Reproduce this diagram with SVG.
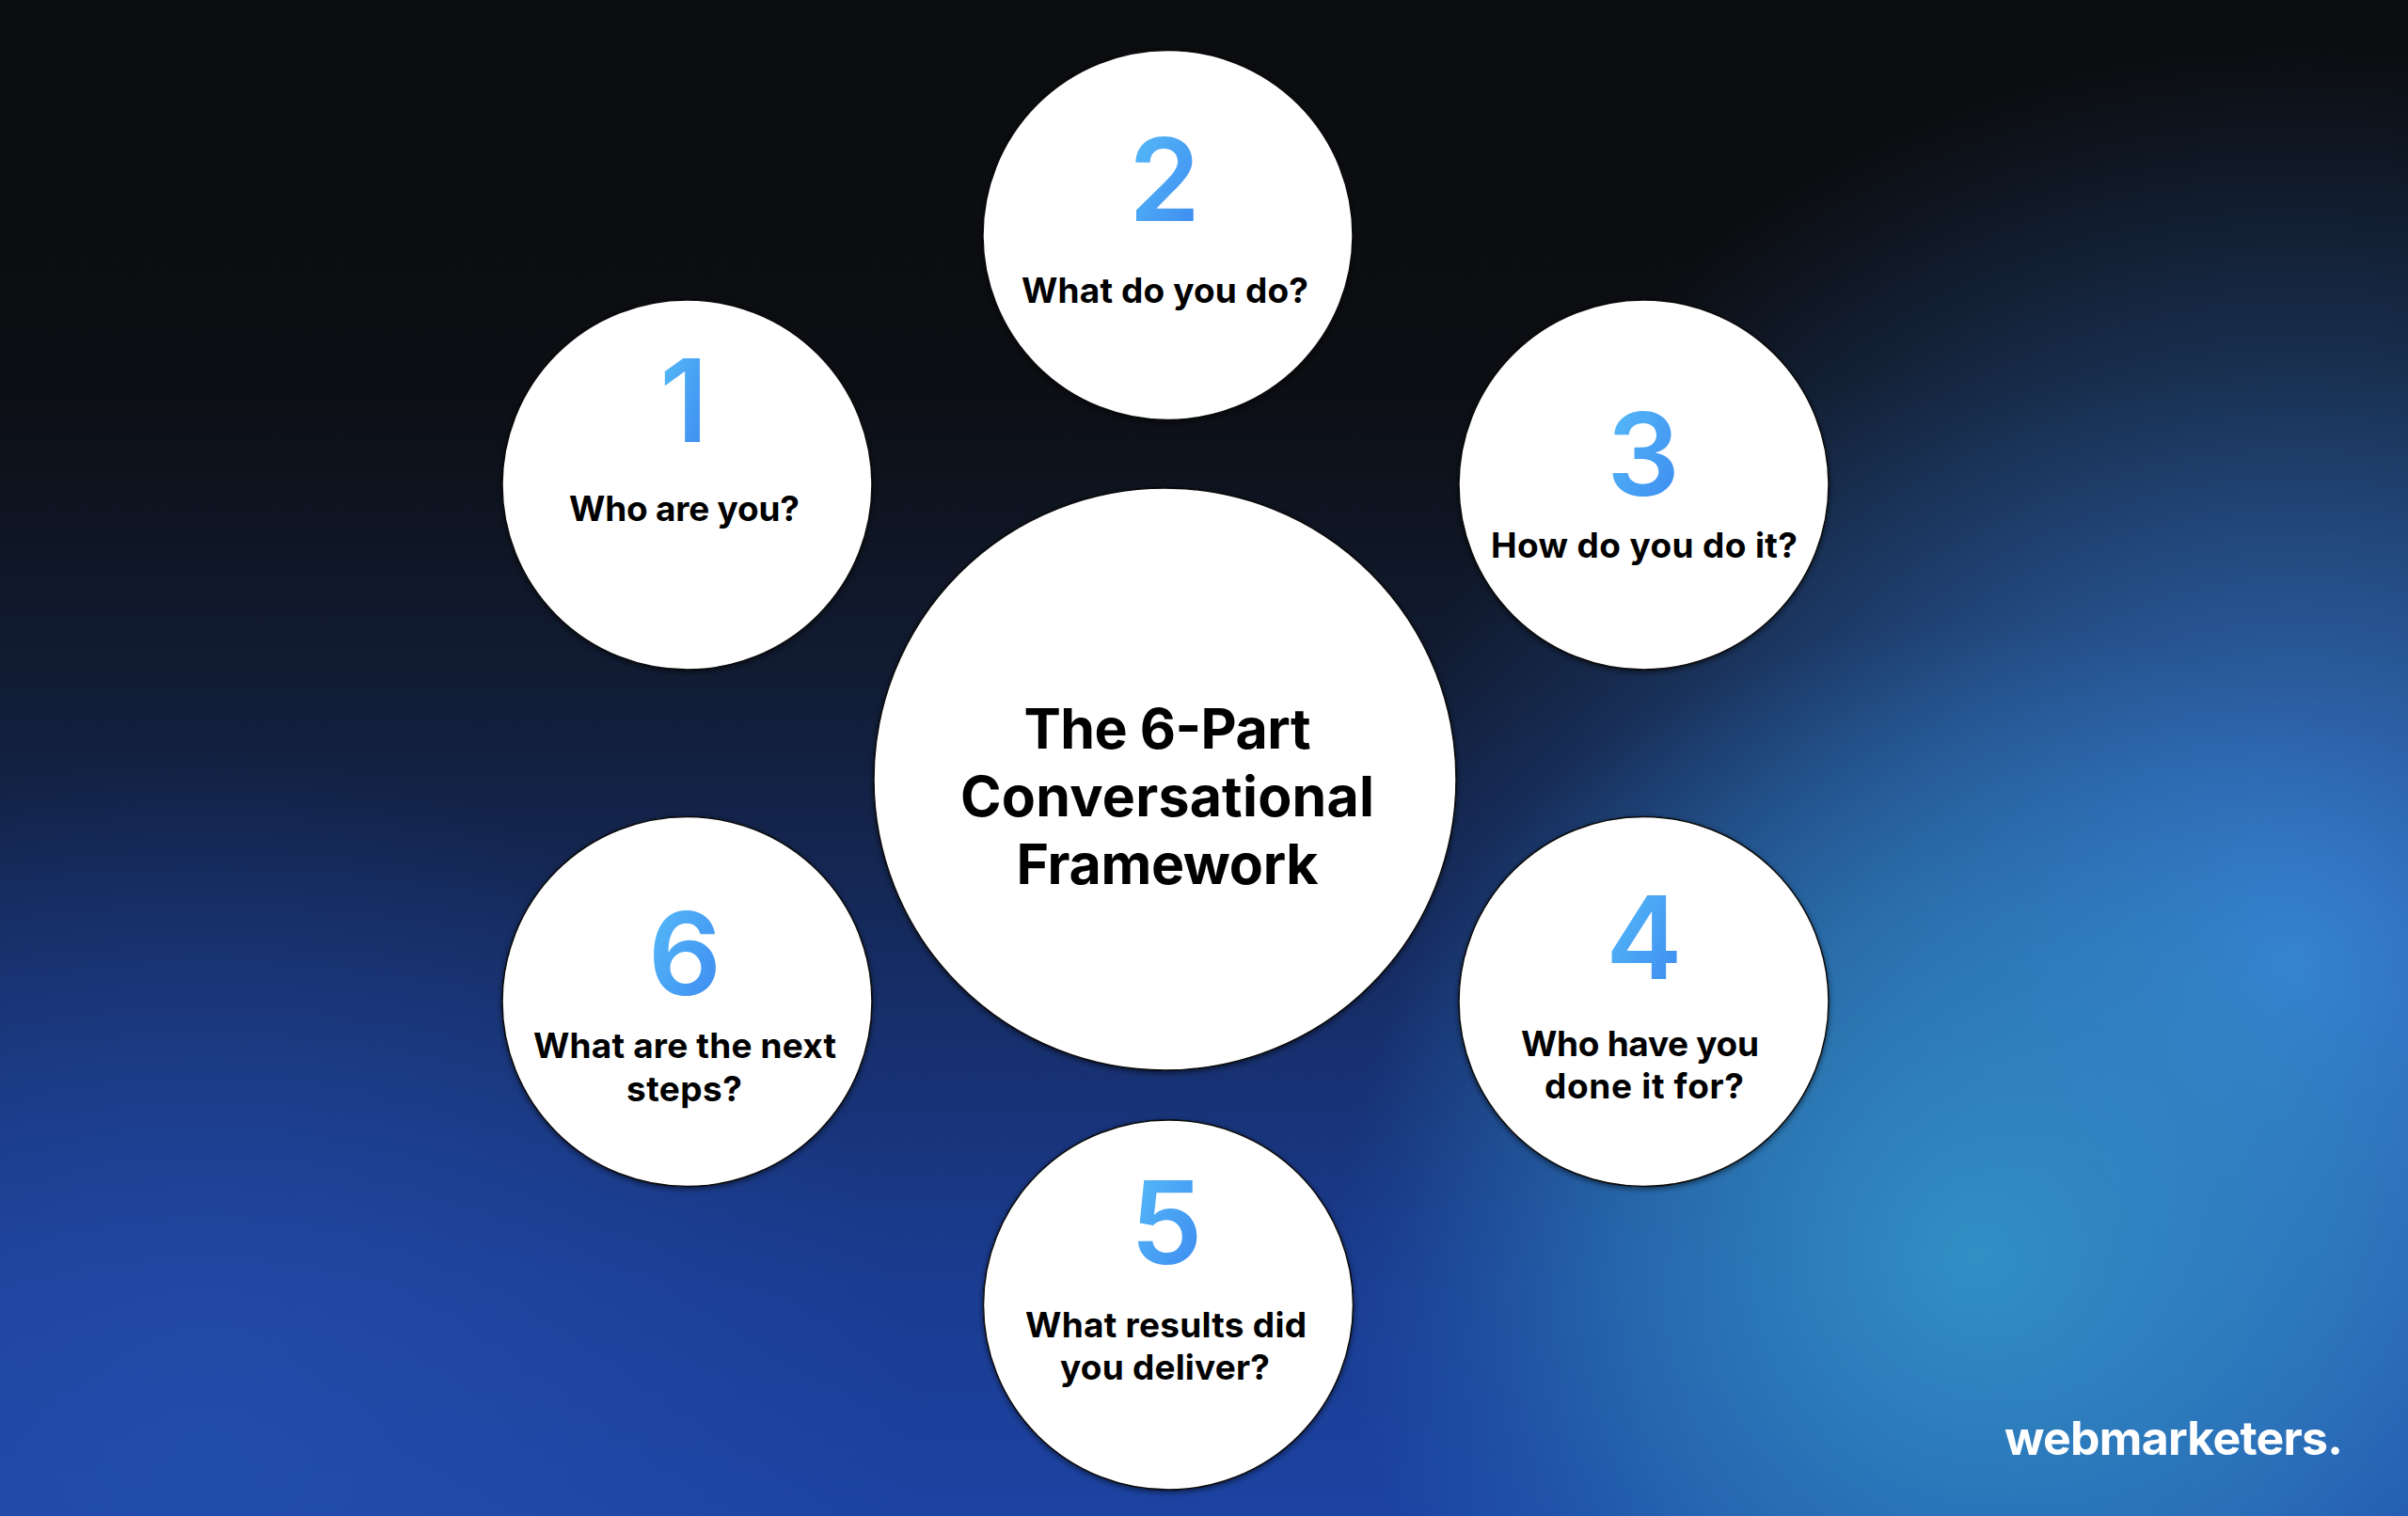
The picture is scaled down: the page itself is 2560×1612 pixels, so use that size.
<svg xmlns="http://www.w3.org/2000/svg" width="2560" height="1612" viewBox="0 0 2560 1612">
  <defs>
    <linearGradient id="bgBase" x1="0" y1="0" x2="0" y2="1">
      <stop offset="0" stop-color="#0b0c0e"/>
      <stop offset="0.25" stop-color="#0c0e13"/>
      <stop offset="0.45" stop-color="#111c34"/>
      <stop offset="0.65" stop-color="#162d66"/>
      <stop offset="0.85" stop-color="#1a3c92"/>
      <stop offset="1" stop-color="#1c43a2"/>
    </linearGradient>
    <radialGradient id="glowBlue" cx="2440" cy="1020" r="980" gradientUnits="userSpaceOnUse">
      <stop offset="0" stop-color="#3b84dc" stop-opacity="0.95"/>
      <stop offset="0.45" stop-color="#3374c8" stop-opacity="0.55"/>
      <stop offset="1" stop-color="#2a5fb0" stop-opacity="0"/>
    </radialGradient>
    <radialGradient id="glowTeal" cx="2100" cy="1340" r="680" gradientUnits="userSpaceOnUse">
      <stop offset="0" stop-color="#3499c9" stop-opacity="0.85"/>
      <stop offset="0.55" stop-color="#3090c4" stop-opacity="0.45"/>
      <stop offset="1" stop-color="#2a80c0" stop-opacity="0"/>
    </radialGradient>
    <radialGradient id="glowLeft" cx="220" cy="1560" r="760" gradientUnits="userSpaceOnUse">
      <stop offset="0" stop-color="#2652b2" stop-opacity="0.7"/>
      <stop offset="1" stop-color="#2652b2" stop-opacity="0"/>
    </radialGradient>
    <linearGradient id="digitGrad" x1="0" y1="0" x2="1" y2="1">
      <stop offset="0" stop-color="#58c0f9"/>
      <stop offset="1" stop-color="#3b86ef"/>
    </linearGradient>
    <filter id="shadow" x="-10%" y="-10%" width="120%" height="120%">
      <feDropShadow dx="0" dy="2" stdDeviation="3" flood-color="#000" flood-opacity="0.55"/>
    </filter>
  </defs>
  <style>
    .disc { fill: #ffffff; stroke: #0a0a0a; stroke-width: 1.5; filter: url(#shadow); }
    .num { font-family: Inter, "Noto Sans", sans-serif; font-weight: 600; font-size: 122px; fill: url(#digitGrad); text-anchor: middle; }
    .lbl { font-family: Inter, "Noto Sans", sans-serif; font-weight: 700; font-size: 37px; fill: #000; text-anchor: middle; }
    .title { font-family: Inter, "Noto Sans", sans-serif; font-weight: 700; font-size: 59px; fill: #000; text-anchor: middle; }
    .logo { font-family: Inter, "Noto Sans", sans-serif; font-weight: 700; font-size: 50px; fill: #ffffff; }
  </style>

  <rect x="0" y="0" width="2560" height="1612" fill="url(#bgBase)"/>
  <rect x="0" y="0" width="2560" height="1612" fill="url(#glowLeft)"/>
  <rect x="0" y="0" width="2560" height="1612" fill="url(#glowBlue)"/>
  <rect x="0" y="0" width="2560" height="1612" fill="url(#glowTeal)"/>

  <g id="connectors"></g>

  <g id="node-center">
    <circle class="disc" cx="1238.5" cy="828.5" r="309.5"/>
    <text class="title" x="1241" y="796" textLength="305">The 6-Part</text>
    <text class="title" x="1241" y="868" textLength="440">Conversational</text>
    <text class="title" x="1241" y="940" textLength="321">Framework</text>
  </g>

  <g id="node-1">
    <circle class="disc" cx="730.5" cy="515.5" r="196.5"/>
    <text class="num" x="727" y="470">1</text>
    <text class="lbl" x="727.5" y="554" textLength="245">Who are you?</text>
  </g>

  <g id="node-2">
    <circle class="disc" cx="1241.5" cy="250" r="196.5"/>
    <text class="num" x="1238" y="235">2</text>
    <text class="lbl" x="1238.5" y="322" textLength="305">What do you do?</text>
  </g>

  <g id="node-3">
    <circle class="disc" cx="1747.5" cy="515.5" r="196.5"/>
    <text class="num" x="1747" y="527">3</text>
    <text class="lbl" x="1748" y="593" textLength="326">How do you do it?</text>
  </g>

  <g id="node-4">
    <circle class="disc" cx="1747.5" cy="1065" r="196.5"/>
    <text class="num" x="1748" y="1041">4</text>
    <text class="lbl" x="1743.5" y="1123" textLength="253">Who have you</text>
    <text class="lbl" x="1748" y="1168" textLength="212">done it for?</text>
  </g>

  <g id="node-5">
    <circle class="disc" cx="1242" cy="1387.5" r="196.5"/>
    <text class="num" x="1240" y="1344">5</text>
    <text class="lbl" x="1239.5" y="1422" textLength="299">What results did</text>
    <text class="lbl" x="1238.5" y="1467" textLength="223">you deliver?</text>
  </g>

  <g id="node-6">
    <circle class="disc" cx="730.5" cy="1065" r="196.5"/>
    <text class="num" x="728" y="1058">6</text>
    <text class="lbl" x="728" y="1125" textLength="322">What are the next</text>
    <text class="lbl" x="727.5" y="1171" textLength="123">steps?</text>
  </g>

  <g id="logo">
    <text class="logo" x="2131" y="1547" textLength="360">webmarketers.</text>
  </g>
</svg>
